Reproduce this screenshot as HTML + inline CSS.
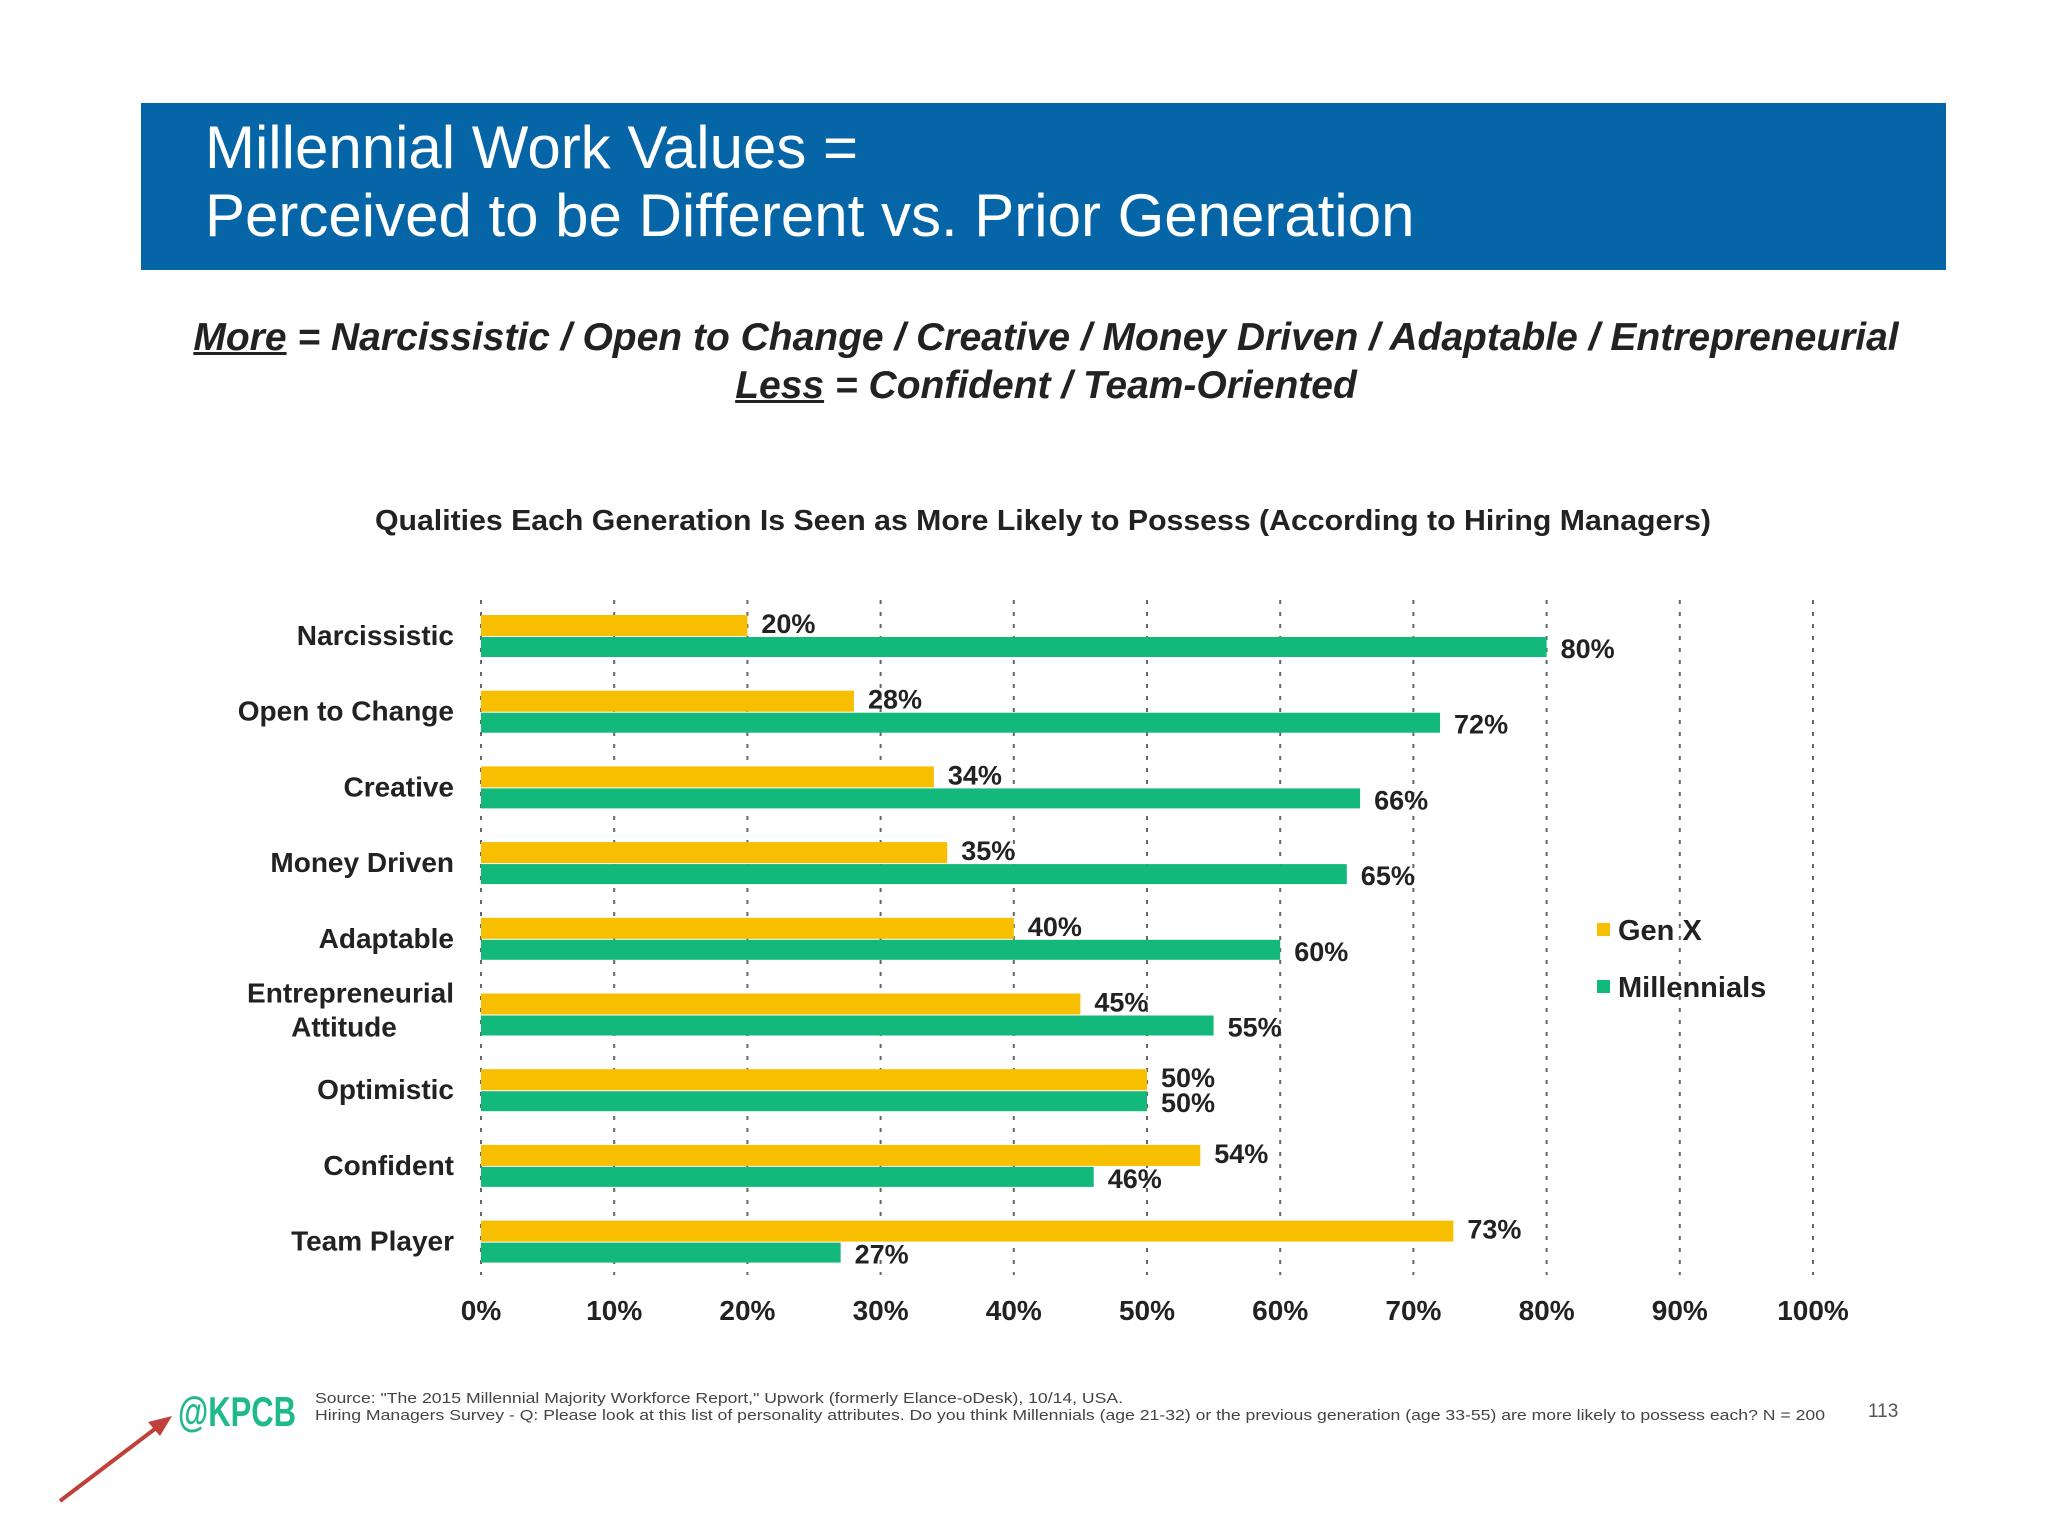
<!DOCTYPE html>
<html><head><meta charset="utf-8"><style>
html,body{margin:0;padding:0;background:#fff;}
body{width:2048px;height:1536px;position:relative;overflow:hidden;font-family:"Liberation Sans",sans-serif;}
.hdr{position:absolute;left:141px;top:103px;width:1805px;height:167px;background:#0565a6;}
.hdr div{position:absolute;left:64px;color:#fff;font-size:60px;white-space:nowrap;}
.sub{position:absolute;left:0;width:2048px;text-align:center;font-weight:bold;font-style:italic;font-size:39px;color:#222;white-space:nowrap;}
</style></head><body>
<div class="hdr">
 <div style="top:10px">Millennial Work Values =</div>
 <div style="top:78px">Perceived to be Different vs. Prior Generation</div>
</div>
<div class="sub" style="top:316px;left:22px"><u>More</u> = Narcissistic / Open to Change / Creative / Money Driven / Adaptable / Entrepreneurial</div>
<div class="sub" style="top:364px;left:22px"><u>Less</u> = Confident / Team-Oriented</div>
<svg id="chart" width="2048" height="1536" style="position:absolute;left:0;top:0"></svg>
<script>
const categories=["Narcissistic","Open to Change","Creative","Money Driven","Adaptable","Entrepreneurial|Attitude","Optimistic","Confident","Team Player"];
const genx=[20,28,34,35,40,45,50,54,73];
const millennials=[80,72,66,65,60,55,50,46,27];
const ticks=[0,10,20,30,40,50,60,70,80,90,100];
const NS="http://www.w3.org/2000/svg";
const svg=document.getElementById('chart');
const x=v=>481+v*13.32;
const yc=i=>637+i*75.7;
function mk(t,a){const e=document.createElementNS(NS,t);for(const k in a)e.setAttribute(k,a[k]);svg.appendChild(e);return e;}
const ct=mk('text',{x:375,y:530,'font-size':29,'font-weight':'bold',fill:'#222','font-family':'Liberation Sans',textLength:1336,lengthAdjust:'spacingAndGlyphs'});
ct.textContent='Qualities Each Generation Is Seen as More Likely to Possess (According to Hiring Managers)';


ticks.forEach(t=>{
 const l=mk('line',{x1:x(t),x2:x(t),y1:600,y2:1275,stroke:'#666','stroke-width':2,'stroke-dasharray':'4,8'});
 
 
 const tx=mk('text',{x:x(t),y:1320,'text-anchor':'middle','font-size':28,'font-weight':'bold',fill:'#222','font-family':'Liberation Sans'});
 tx.textContent=t+'%';
 
 
});
categories.forEach((c,i)=>{
 const y=yc(i);
 const parts=c.split('|');
 parts.forEach((p,j)=>{
  const dy=parts.length>1?(j===0?-13:21):8;
  const t=mk('text',{x:parts.length>1&&j===1?344:454,y:y+dy,'text-anchor':parts.length>1&&j===1?'middle':'end','font-size':28,'font-weight':'bold',fill:'#222','font-family':'Liberation Sans'});
  t.textContent=p;
  
  
 });
 const b1=mk('rect',{x:x(0),y:y-22,width:x(genx[i])-x(0),height:21,fill:'#f7bf00'});
 
 
 const b2=mk('rect',{x:x(0),y:y,width:x(millennials[i])-x(0),height:20,fill:'#13b97a'});
 
 
 const l1=mk('text',{x:x(genx[i])+14,y:y-4,'font-size':27,'font-weight':'bold',fill:'#222','font-family':'Liberation Sans'});
 l1.textContent=genx[i]+'%';
 
 
 const l2=mk('text',{x:x(millennials[i])+14,y:y+21,'font-size':27,'font-weight':'bold',fill:'#222','font-family':'Liberation Sans'});
 l2.textContent=millennials[i]+'%';
 
 
});
[['Gen X','#f7bf00',930],['Millennials','#13b97a',987]].forEach(([n,c,y])=>{
 const r=mk('rect',{x:1597,y:y-7,width:13,height:13,fill:c});
 
 
 const t=mk('text',{x:1618,y:y+10,'font-size':29,'font-weight':'bold',fill:'#222','font-family':'Liberation Sans'});
 t.textContent=n;
 
 
});
const kp=mk('text',{x:178,y:1426,'font-size':42,'font-weight':'bold',fill:'#1fb98a','font-family':'Liberation Sans',textLength:118,lengthAdjust:'spacingAndGlyphs'});
kp.textContent='@KPCB';


const s1=mk('text',{x:315,y:1403,'font-size':15,fill:'#444','font-family':'Liberation Sans',textLength:808,lengthAdjust:'spacingAndGlyphs'});
s1.textContent='Source: "The 2015 Millennial Majority Workforce Report," Upwork (formerly Elance-oDesk), 10/14, USA.';


const s2=mk('text',{x:315,y:1420,'font-size':15,fill:'#444','font-family':'Liberation Sans',textLength:1510,lengthAdjust:'spacingAndGlyphs'});
s2.textContent='Hiring Managers Survey - Q: Please look at this list of personality attributes. Do you think Millennials (age 21-32) or the previous generation (age 33-55) are more likely to possess each? N = 200';


const pg=mk('text',{x:1868,y:1417,'font-size':19,fill:'#555','font-family':'Liberation Sans'});
pg.textContent='113';


const ar=mk('line',{x1:60,y1:1501,x2:160,y2:1425,stroke:'#c0403a','stroke-width':4});


const ah=mk('polygon',{points:'172,1416 148,1422 160,1436',fill:'#c0403a'});


</script>
</body></html>
